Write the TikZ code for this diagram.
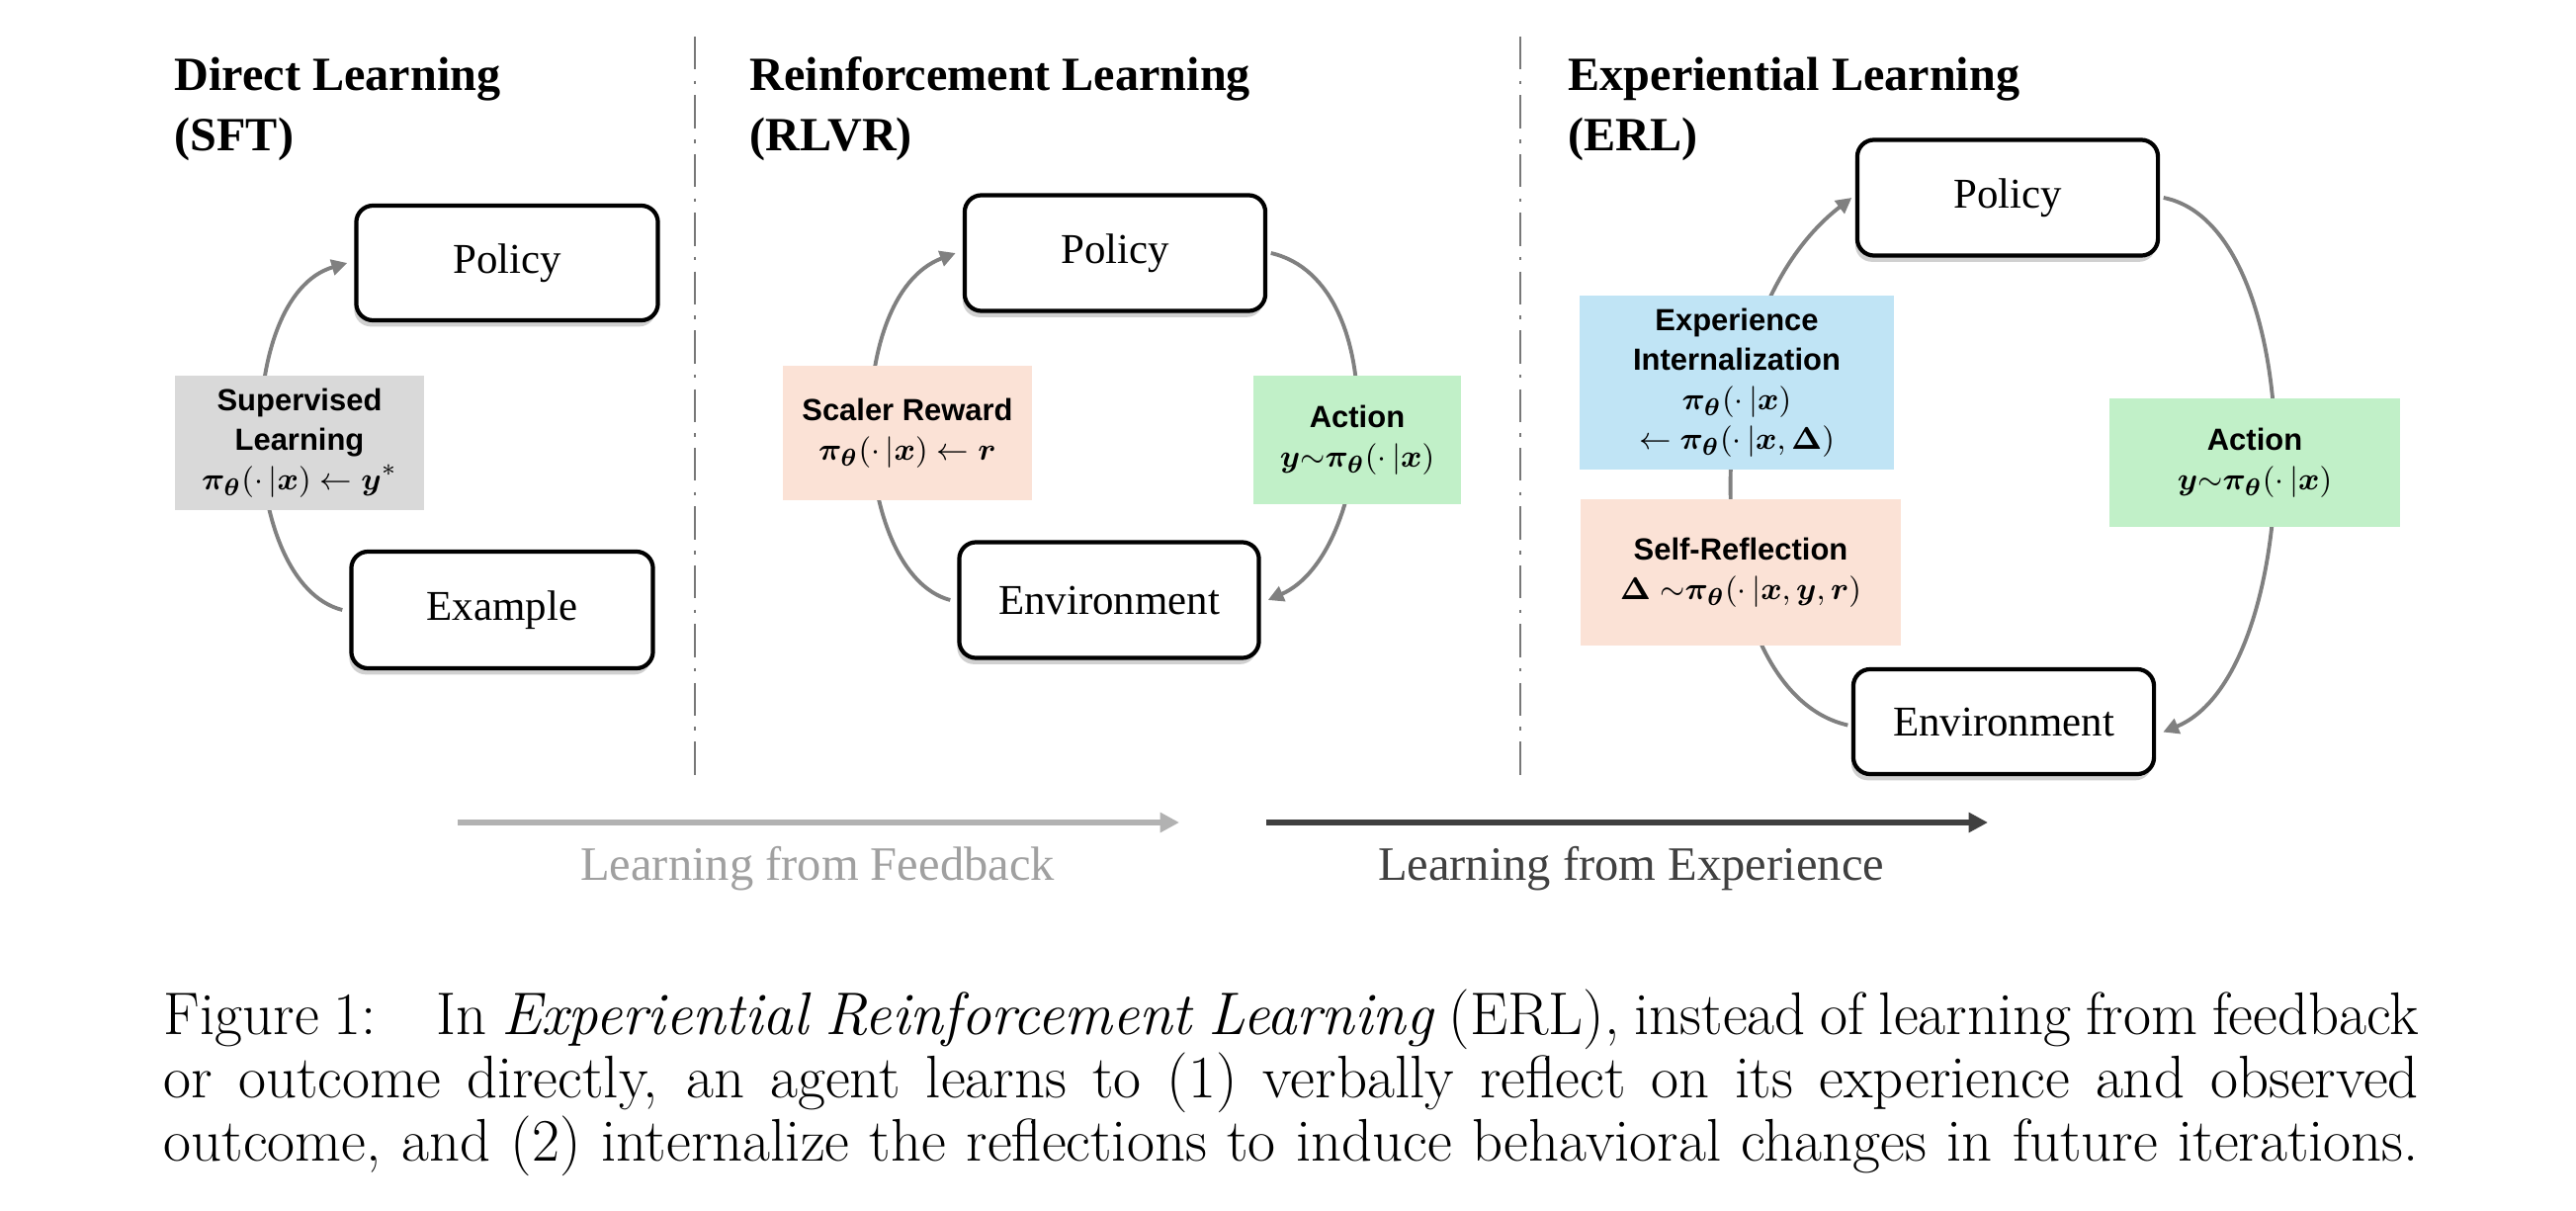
\documentclass[tikz,border=0pt]{standalone}
\usepackage{amsmath,bm}
\usepackage{fontspec}
\newfontfamily\tms{Liberation Serif}
\newfontfamily\sns{Liberation Sans}
\usetikzlibrary{arrows.meta,shadows}
\definecolor{greyfill}{RGB}{217,217,217}
\definecolor{peach}{RGB}{251,226,214}
\definecolor{mint}{RGB}{193,240,200}
\definecolor{skyb}{RGB}{192,228,245}
\definecolor{arrowgrey}{RGB}{128,128,128}
\definecolor{sepgrey}{RGB}{120,120,120}
\definecolor{fbgrey}{RGB}{178,178,178}
\definecolor{fbtext}{RGB}{160,160,160}
\definecolor{exdark}{RGB}{64,64,64}
\newcommand{\mth}[1]{{\fontsize{9.5}{11.4}\selectfont$#1$}}
\newcommand{\bpi}{\boldsymbol{\pi}_{\boldsymbol{\theta}}}
\newcommand{\lsl}{\lineskiplimit=-5pt\relax}
\begin{document}
\begin{tikzpicture}[x=0.01cm,y=-0.01cm,
  rbox/.style={draw=black, line width=1.2pt, rounded corners=0.17cm, fill=white,
    font=\tms\fontsize{12.2}{14}\selectfont, inner sep=0pt,
    drop shadow={shadow xshift=-0.6pt, shadow yshift=-1.8pt, opacity=0.3, fill=black!60}},
  lbl/.style={inner sep=0pt, align=center, font=\sns\bfseries\fontsize{8.8}{11.4}\selectfont\lsl},
  cyc/.style={draw=arrowgrey, line width=1.1pt, -{Triangle[length=4.5pt,width=4.5pt]}},
  ttl/.style={anchor=base west, inner sep=0pt, font=\tms\bfseries\fontsize{13.7}{16}\selectfont},
  sepline/.style={draw=sepgrey, line width=0.5pt, dash pattern=on 9.5pt off 3.2pt on 1pt off 3.2pt},
  bigarrow/.style={line width=1.7pt, -{Triangle[length=5.5pt,width=5.5pt]}},
  subtxt/.style={anchor=base, inner sep=0pt, font=\tms\fontsize{13.8}{16}\selectfont},
  captxt/.style={anchor=base west, inner sep=0pt, font=\fontsize{17.3}{20}\selectfont}
]
\fill[white] (0,0) rectangle (2606,1224);
\useasboundingbox (0,0) rectangle (2606,1224);

% titles
\node[ttl] (t1a) at (176,91) {Direct Learning};
\node[ttl] (t1b) at (176,152) {(SFT)};
\node[ttl] (t2a) at (758,91) {Reinforcement Learning};
\node[ttl] (t2b) at (758,152) {(RLVR)};
\node[ttl] (t3a) at (1586,91) {Experiential Learning};
\node[ttl] (t3b) at (1586,152) {(ERL)};

% separators
\draw[sepline] (703,37) -- (703,792);
\draw[sepline] (1538,37) -- (1538,792);

% SFT
\node[rbox, minimum width=3.05cm, minimum height=1.16cm] (p1) at (513,266) {Policy};
\node[rbox, minimum width=3.05cm, minimum height=1.18cm] (e1) at (508,617) {Example};
\draw[cyc] ([xshift=-2pt]e1.west) .. controls (240,590) and (235,300) .. ([xshift=-2pt]p1.west);
\node[lbl, fill=greyfill, minimum width=2.51cm, minimum height=1.35cm] (s1) at (303,448)
  {Supervised\\Learning\\\mth{\bpi(\cdot\,|\boldsymbol{x})\leftarrow\boldsymbol{y}^{*}}};

% RLVR
\node[rbox, minimum width=3.04cm, minimum height=1.17cm] (p2) at (1128,256) {Policy};
\node[rbox, minimum width=3.03cm, minimum height=1.17cm] (e2) at (1122,607) {Environment};
\draw[cyc] ([xshift=-2pt]e2.west) .. controls (860,580) and (850,300) .. ([xshift=-2pt]p2.west);
\draw[cyc] ([xshift=1pt]p2.east) .. controls (1412,285) and (1390,560) .. ([xshift=2pt]e2.east);
\node[lbl, fill=peach, minimum width=2.52cm, minimum height=1.36cm] (sr2) at (918,438)
  {Scaler Reward\\\mth{\bpi(\cdot\,|\boldsymbol{x})\leftarrow\boldsymbol{r}}};
\node[lbl, fill=mint, minimum width=2.09cm, minimum height=1.30cm] (a2) at (1373,445)
  {Action\\\mth{\boldsymbol{y}{\sim}\bpi(\cdot\,|\boldsymbol{x})}};

% ERL
\node[rbox, minimum width=3.04cm, minimum height=1.17cm] (p3) at (2031,200) {Policy};
\node[rbox, minimum width=3.04cm, minimum height=1.06cm] (e3) at (2027,730) {Environment};
\draw[cyc] ([xshift=-1pt,yshift=-1pt]e3.west) .. controls (1720,700) and (1705,330) .. ([xshift=-1pt]p3.west);
\draw[cyc] ([xshift=1pt]p3.east) .. controls (2340,230) and (2335,680) .. ([xshift=2pt,yshift=-3pt]e3.east);
\node[lbl, fill=skyb, minimum width=3.17cm, minimum height=1.75cm] (ei) at (1757,387)
  {Experience\\Internalization\\\mth{\bpi(\cdot\,|\boldsymbol{x})}\\\mth{\leftarrow\bpi(\cdot\,|\boldsymbol{x},\boldsymbol{\Delta})}};
\node[lbl, fill=peach, minimum width=3.24cm, minimum height=1.48cm] (sr3) at (1761,579)
  {Self-Reflection\\\mth{\boldsymbol{\Delta}\ {\sim}\bpi(\cdot\,|\boldsymbol{x},\boldsymbol{y},\boldsymbol{r})}};
\node[lbl, fill=mint, minimum width=2.93cm, minimum height=1.30cm] (a3) at (2281,468)
  {Action\\\mth{\boldsymbol{y}{\sim}\bpi(\cdot\,|\boldsymbol{x})}};

% bottom arrows
\coordinate (fa) at (463,832);
\coordinate (fb) at (1193,832);
\coordinate (xa) at (1281,832);
\coordinate (xb) at (2011,832);
\draw[bigarrow, draw=fbgrey, fill=fbgrey] (fa) -- (fb);
\draw[bigarrow, draw=exdark, fill=exdark] (xa) -- (xb);
\node[subtxt, text=fbtext] (lf) at (827,890) {Learning from Feedback};
\node[subtxt, text=exdark] (lx) at (1650,890) {Learning from Experience};

% caption
\node[captxt] (c1) at (165,1046) {\makebox[22.8cm][s]{Figure 1:\hspace{1em}In \textit{Experiential Reinforcement Learning} (ERL), instead of learning from feedback}};
\node[captxt] (c2) at (165,1110) {\makebox[22.8cm][s]{or outcome directly, an agent learns to (1) verbally reflect on its experience and observed}};
\node[captxt] (c3) at (165,1174) {\makebox[22.8cm][s]{outcome, and (2) internalize the reflections to induce behavioral changes in future iterations.}};
\end{tikzpicture}
\end{document}
